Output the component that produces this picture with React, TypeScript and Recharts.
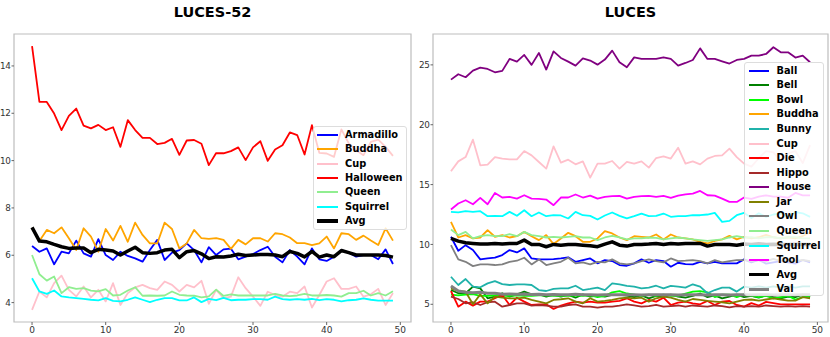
import { LineChart, Line, XAxis, YAxis, ReferenceArea } from "recharts";

const FONT = "'DejaVu Sans', sans-serif";

const steps = Array.from({ length: 50 }, (_, i) => i);
const xTicks = [0, 10, 20, 30, 40, 50];

// LUCES-52
const armadillo = [6.39, 6.15, 6.29, 5.62, 6.15, 6.08, 6.62, 6.08, 5.94, 6.68, 6.01, 5.8, 6.15, 5.97, 5.87, 5.73, 6.22, 6.65, 5.8, 6.11, 6.22, 6.5, 6.22, 5.7, 6.34, 6.01, 6.25, 6.28, 5.83, 5.94, 6.05, 6.22, 6.36, 5.94, 5.7, 6.22, 5.94, 5.62, 6.29, 5.83, 5.76, 5.94, 6.22, 6.11, 5.94, 6.01, 6.01, 5.83, 6.25, 5.63];
const buddha52 = [7.15, 6.6, 7.07, 6.93, 7.18, 6.72, 6.22, 7.14, 6.79, 6.15, 7.11, 6.62, 7.24, 6.57, 7.38, 6.86, 6.5, 6.5, 7.38, 7.11, 6.29, 6.5, 7.07, 6.72, 6.69, 6.72, 6.65, 6.27, 6.65, 6.46, 6.72, 6.72, 6.58, 6.93, 6.89, 6.75, 6.51, 6.51, 6.43, 6.5, 6.79, 6.29, 6.93, 6.89, 6.65, 6.83, 6.62, 6.43, 7.14, 6.62];
const cup52 = [3.69, 4.47, 4.22, 4.82, 5.14, 4.54, 4.26, 4.68, 4.22, 4.54, 4.05, 4.82, 3.9, 4.4, 4.64, 4.75, 4.61, 4.54, 4.89, 4.75, 4.47, 4.75, 4.64, 4.92, 3.95, 4.54, 4.19, 4.25, 5.07, 4.61, 4.25, 3.86, 4.46, 4.32, 4.25, 4.46, 4.4, 4.68, 3.79, 4.32, 4.89, 5.03, 4.58, 4.58, 4.68, 4.25, 4.35, 4.58, 3.9, 4.4];
const halloween = [14.84, 12.48, 12.48, 11.99, 11.29, 11.89, 12.2, 11.48, 11.36, 11.51, 11.29, 11.41, 10.58, 11.71, 11.29, 10.96, 10.96, 10.7, 10.75, 10.92, 10.24, 10.85, 10.87, 10.71, 9.81, 10.32, 10.31, 10.4, 10.56, 10.02, 10.56, 10.82, 9.99, 10.47, 10.65, 11.19, 11.08, 10.26, 11.5, 10.33, 10.3, 10.16, 11.32, 10.73, 10.44, 10.23, 10.79, 10.89, 10.58, 10.2];
const queen52 = [6.01, 5.2, 4.93, 5.1, 4.4, 4.65, 4.58, 4.61, 4.51, 4.47, 4.57, 4.3, 4.33, 4.51, 4.65, 4.29, 4.3, 4.29, 4.3, 4.47, 4.33, 4.3, 4.29, 4.22, 4.26, 4.55, 4.28, 4.35, 4.3, 4.3, 4.3, 4.3, 4.3, 4.37, 4.3, 4.27, 4.3, 4.37, 4.3, 4.3, 4.32, 4.3, 4.25, 4.4, 4.4, 4.5, 4.3, 4.4, 4.3, 4.48];
const squirrel52 = [5.03, 4.47, 4.37, 4.51, 4.26, 4.22, 4.19, 4.16, 4.12, 4.09, 4.19, 4.07, 4.05, 4.12, 4.22, 4.12, 4.02, 4.12, 4.19, 4.19, 4.09, 4.09, 4.22, 4.02, 4.16, 4.1, 4.2, 4.1, 4.12, 4.12, 4.15, 4.15, 4.12, 4.25, 4.15, 4.12, 4.15, 4.12, 4.16, 4.1, 4.15, 4.12, 4.05, 4.1, 4.12, 4.18, 4.12, 4.08, 4.08, 4.08];
const avg52 = [7.18, 6.6, 6.57, 6.46, 6.36, 6.29, 6.31, 6.31, 6.11, 6.25, 6.22, 6.18, 6.01, 6.18, 6.34, 6.11, 6.08, 6.11, 6.22, 6.25, 5.9, 6.15, 6.2, 6.06, 5.86, 5.94, 5.93, 5.97, 6.04, 5.99, 6.01, 6.03, 6.03, 6.01, 5.94, 6.16, 6.08, 5.93, 6.16, 5.92, 6.01, 5.94, 6.2, 6.11, 6.01, 6.01, 6.01, 6.01, 5.99, 5.92];

// LUCES
const ball = [10.64, 9.47, 9.94, 9.53, 8.75, 8.83, 8.89, 9.11, 9.53, 9.33, 9.67, 8.83, 8.75, 8.75, 8.78, 8.83, 8.92, 8.55, 8.69, 8.83, 8.42, 8.69, 8.61, 8.28, 8.22, 8.42, 8.75, 8.47, 8.69, 8.61, 8.14, 8.47, 8.36, 8.33, 8.55, 8.42, 8.55, 8.42, 8.42, 8.42, 8.75, 8.5, 8.7, 8.4, 8.5, 8.6, 8.5, 8.4, 8.7, 8.5];
const bell = [6.19, 5.92, 5.92, 6.47, 6.33, 5.5, 5.64, 5.92, 5.64, 5.83, 6.05, 5.83, 5.83, 5.64, 5.78, 5.64, 5.78, 5.55, 5.83, 5.64, 5.72, 5.64, 5.78, 5.78, 5.72, 5.6, 5.75, 5.5, 5.7, 5.6, 5.8, 5.65, 5.55, 5.7, 5.9, 5.6, 5.75, 5.5, 5.65, 5.8, 5.6, 5.7, 5.55, 5.75, 5.6, 5.5, 5.65, 5.6, 5.8, 5.6];
const bowl = [5.8, 5.75, 5.8, 5.85, 5.7, 5.7, 5.75, 5.7, 5.7, 5.75, 5.7, 5.7, 5.75, 5.75, 5.7, 5.7, 5.7, 5.75, 5.7, 5.75, 5.6, 5.7, 6.0, 6.1, 5.9, 5.8, 5.7, 5.8, 5.7, 5.8, 5.7, 5.7, 5.9, 6.05, 6.1, 6.0, 5.6, 5.8, 5.8, 5.6, 5.8, 5.7, 5.6, 5.7, 5.5, 5.6, 5.7, 5.4, 5.6, 5.7];
const buddha = [11.89, 10.58, 10.78, 10.5, 10.58, 11.19, 10.64, 10.78, 10.58, 10.69, 11.05, 10.69, 10.36, 10.78, 10.03, 10.5, 10.97, 10.69, 10.22, 10.22, 10.5, 11.11, 10.92, 10.58, 10.36, 10.69, 10.64, 10.58, 10.83, 10.42, 10.83, 10.58, 10.5, 10.42, 10.22, 10.08, 10.3, 10.42, 10.72, 10.42, 10.64, 10.5, 10.6, 10.8, 10.6, 10.5, 10.6, 10.5, 10.7, 11.0];
const bunny = [7.3, 6.61, 7.11, 6.47, 6.42, 6.75, 6.94, 6.69, 6.61, 6.67, 6.67, 6.61, 6.19, 6.11, 6.28, 6.33, 6.33, 6.55, 6.19, 6.28, 6.39, 6.19, 6.75, 6.67, 6.53, 6.47, 6.33, 6.39, 6.55, 6.33, 6.53, 6.47, 6.39, 6.67, 6.47, 5.92, 6.19, 6.39, 6.39, 6.06, 6.47, 6.4, 6.5, 6.4, 6.5, 6.4, 6.5, 6.4, 6.5, 6.5];
const cup = [16.11, 16.94, 17.3, 18.75, 16.61, 16.67, 17.3, 17.17, 17.11, 17.11, 17.8, 17.44, 16.89, 16.33, 18.19, 16.83, 17.08, 16.69, 16.94, 15.58, 16.75, 16.75, 16.97, 16.33, 16.89, 16.75, 16.94, 16.42, 17.22, 17.36, 17.17, 18.08, 16.75, 16.94, 16.69, 17.17, 17.39, 17.44, 18.0, 17.3, 16.75, 16.5, 17.2, 17.8, 17.7, 16.9, 17.6, 17.8, 16.8, 18.3];
const die = [6.11, 4.8, 5.22, 4.89, 5.22, 5.22, 5.5, 5.78, 4.94, 5.55, 5.22, 4.94, 5.0, 5.0, 4.61, 4.89, 5.08, 5.22, 5.14, 5.22, 5.14, 5.14, 5.22, 5.28, 5.5, 5.22, 5.08, 5.36, 5.22, 5.55, 4.94, 5.14, 5.22, 5.08, 5.0, 5.28, 4.94, 5.22, 5.28, 4.94, 4.8, 5.1, 4.9, 5.2, 5.1, 5.0, 5.0, 5.0, 5.0, 5.0];
const hippo = [5.64, 5.44, 5.08, 5.17, 4.94, 5.17, 5.22, 4.8, 4.94, 5.08, 5.08, 4.89, 4.94, 4.89, 4.8, 4.8, 4.94, 5.0, 4.8, 4.8, 4.72, 4.8, 4.8, 4.89, 5.0, 4.9, 4.8, 4.85, 4.95, 4.8, 4.85, 4.9, 4.8, 4.9, 4.85, 4.8, 4.9, 4.85, 4.75, 4.85, 4.8, 4.85, 4.8, 4.9, 4.85, 4.8, 4.85, 4.8, 4.85, 4.8];
const house = [23.77, 24.22, 23.97, 24.52, 24.77, 24.66, 24.38, 24.5, 25.5, 25.27, 25.83, 25.0, 26.0, 24.61, 26.13, 25.58, 25.27, 24.94, 25.55, 25.36, 25.02, 25.44, 26.19, 25.22, 24.8, 25.63, 25.5, 25.5, 25.5, 25.63, 25.5, 24.94, 25.16, 25.41, 26.38, 25.5, 25.5, 25.3, 25.11, 25.41, 25.5, 25.77, 25.77, 25.91, 26.47, 26.05, 26.05, 25.61, 25.77, 25.22];
const jar = [6.33, 6.11, 6.05, 5.0, 5.83, 5.08, 5.64, 5.55, 5.5, 5.5, 5.55, 5.36, 5.22, 5.08, 5.36, 5.42, 5.5, 5.22, 5.08, 5.5, 5.22, 5.28, 5.36, 5.5, 5.55, 5.5, 5.55, 5.22, 5.5, 5.64, 5.55, 5.36, 5.22, 5.44, 5.36, 5.28, 5.22, 5.17, 5.08, 5.22, 5.36, 5.4, 5.3, 5.4, 5.5, 5.4, 5.3, 5.3, 5.6, 5.5];
const owl = [9.94, 8.75, 8.55, 8.19, 8.33, 8.33, 8.28, 8.33, 8.55, 8.64, 8.89, 8.33, 8.75, 8.28, 8.42, 8.55, 8.89, 8.42, 8.5, 8.33, 8.55, 8.5, 8.75, 8.42, 8.33, 8.42, 8.61, 8.75, 8.61, 8.5, 8.83, 8.61, 8.64, 8.69, 8.61, 8.42, 8.69, 8.5, 8.61, 8.69, 8.69, 8.6, 8.7, 8.6, 8.8, 8.6, 8.7, 8.6, 8.7, 8.6];
const queen = [11.25, 10.78, 11.05, 10.5, 10.69, 10.78, 10.69, 10.69, 10.86, 10.69, 11.05, 10.78, 10.69, 10.58, 10.64, 10.58, 10.64, 10.69, 10.58, 10.58, 10.36, 10.58, 10.72, 10.58, 10.42, 10.5, 10.5, 10.58, 10.55, 10.42, 10.5, 10.58, 10.5, 10.42, 10.36, 10.3, 10.36, 10.42, 10.58, 10.69, 10.58, 10.6, 10.5, 10.6, 10.6, 10.5, 10.6, 10.6, 10.5, 10.5];
const squirrel = [12.72, 12.67, 12.78, 12.72, 12.78, 12.36, 12.39, 12.36, 12.72, 12.39, 12.86, 12.36, 12.67, 12.36, 12.44, 12.42, 12.17, 12.72, 12.44, 12.39, 12.08, 12.42, 12.67, 12.39, 12.17, 12.36, 12.58, 12.36, 12.39, 12.58, 12.31, 12.36, 12.36, 12.44, 12.44, 12.5, 12.64, 11.89, 11.97, 12.44, 12.64, 12.2, 12.6, 12.3, 12.5, 12.6, 12.3, 12.7, 12.6, 12.3];
const tool = [12.92, 13.42, 13.69, 13.36, 13.89, 13.36, 14.3, 13.92, 13.97, 13.83, 14.11, 13.83, 13.8, 13.75, 13.28, 13.92, 13.92, 14.17, 13.92, 14.08, 13.83, 13.97, 14.03, 14.05, 13.83, 13.97, 14.03, 14.05, 13.97, 14.05, 13.89, 14.08, 14.19, 14.25, 14.47, 14.11, 14.08, 13.83, 13.55, 13.55, 13.92, 13.8, 14.0, 14.1, 14.0, 14.0, 13.9, 14.3, 14.1, 14.1];
const avg = [10.5, 10.28, 10.14, 10.08, 10.03, 10.03, 10.08, 10.03, 10.08, 10.08, 10.36, 10.0, 10.0, 9.81, 10.0, 9.94, 10.0, 10.0, 9.94, 9.89, 9.81, 10.03, 10.22, 9.94, 9.86, 10.0, 10.0, 10.03, 10.08, 10.0, 10.08, 10.03, 10.08, 10.08, 10.08, 9.86, 10.0, 10.0, 10.0, 9.94, 10.03, 10.0, 10.05, 10.0, 10.02, 10.0, 10.0, 10.02, 10.0, 10.0];
const val = [6.53, 6.11, 6.0, 5.97, 6.0, 5.92, 5.92, 5.83, 5.86, 5.83, 5.85, 5.82, 5.83, 5.8, 5.82, 5.8, 5.8, 5.83, 5.8, 5.8, 5.78, 5.8, 5.8, 5.8, 5.8, 5.8, 5.78, 5.8, 5.8, 5.8, 5.8, 5.78, 5.8, 5.8, 5.8, 5.78, 5.8, 5.8, 5.78, 5.8, 5.8, 5.78, 5.8, 5.8, 5.78, 5.8, 5.8, 5.78, 5.8, 5.8];

type S = { name: string; values: number[]; color: string; w: number };

const leftSeries: S[] = [
  { name: "Armadillo", values: armadillo, color: "#0000ff", w: 1.8 },
  { name: "Buddha", values: buddha52, color: "#ffa500", w: 1.8 },
  { name: "Cup", values: cup52, color: "#ffc0cb", w: 1.8 },
  { name: "Halloween", values: halloween, color: "#ff0000", w: 1.8 },
  { name: "Queen", values: queen52, color: "#90ee90", w: 1.8 },
  { name: "Squirrel", values: squirrel52, color: "#00ffff", w: 1.8 },
  { name: "Avg", values: avg52, color: "#000000", w: 3.5 },
];

const rightSeries: S[] = [
  { name: "Ball", values: ball, color: "#0000ff", w: 1.8 },
  { name: "Bell", values: bell, color: "#008000", w: 1.8 },
  { name: "Bowl", values: bowl, color: "#00ff00", w: 1.8 },
  { name: "Buddha", values: buddha, color: "#ffa500", w: 1.8 },
  { name: "Bunny", values: bunny, color: "#20b2aa", w: 1.8 },
  { name: "Cup", values: cup, color: "#ffc0cb", w: 1.8 },
  { name: "Die", values: die, color: "#ff0000", w: 1.8 },
  { name: "Hippo", values: hippo, color: "#a52a2a", w: 1.8 },
  { name: "House", values: house, color: "#800080", w: 1.8 },
  { name: "Jar", values: jar, color: "#808000", w: 1.8 },
  { name: "Owl", values: owl, color: "#808080", w: 1.8 },
  { name: "Queen", values: queen, color: "#90ee90", w: 1.8 },
  { name: "Squirrel", values: squirrel, color: "#00ffff", w: 1.8 },
  { name: "Tool", values: tool, color: "#ff00ff", w: 1.8 },
  { name: "Avg", values: avg, color: "#000000", w: 3.5 },
  { name: "Val", values: val, color: "#808080", w: 3 },
];

const toRows = (series: S[]) =>
  steps.map((i) => {
    const row: Record<string, number> = { i };
    series.forEach((s) => (row[s.name] = s.values[i]));
    return row;
  });

const xTickStyle = { fontSize: 9, fill: "#333", fontFamily: FONT };
const yTickStyle = { fontSize: 8.8, fill: "#333", fontFamily: FONT, letterSpacing: -0.4 };

function Panel({ left, series, yDomain, yTicks, yWidth, mRight, title }: any) {
  const xd = [-2.45, 51.45];
  return (
    <div style={{ position: "absolute", left, top: 0, width: 415, height: 337 }}>
      <div style={{ position: "absolute", left: yWidth, width: 415 - yWidth - mRight, top: 4, textAlign: "center", fontFamily: FONT, fontWeight: "bold", fontSize: 14.5 }}>
        {title}
      </div>
      <LineChart width={415} height={337} data={toRows(series)} margin={{ top: 34, right: mRight, bottom: 0, left: 0 }}>
        <XAxis dataKey="i" type="number" domain={xd} ticks={xTicks} allowDataOverflow height={15} axisLine={false} tickSize={3} tickLine={{ stroke: "#666" }} tick={xTickStyle} interval={0} />
        <YAxis type="number" domain={yDomain} ticks={yTicks} allowDataOverflow width={yWidth} axisLine={false} tickSize={2.5} tickMargin={1} tickLine={{ stroke: "#666" }} tick={yTickStyle} interval={0} />
        <ReferenceArea x1={xd[0]} x2={xd[1]} y1={yDomain[0]} y2={yDomain[1]} fill="none" stroke="#bdbdbd" strokeWidth={1.2} ifOverflow="visible" />
        {series.map((s: S) => (
          <Line key={s.name} dataKey={s.name} stroke={s.color} strokeWidth={s.w} dot={false} activeDot={false} isAnimationActive={false} strokeLinejoin="round" />
        ))}
      </LineChart>
    </div>
  );
}

function LegendBox({ x, y, w, h, step, series }: { x: number; y: number; w: number; h: number; step: number; series: S[] }) {
  return (
    <div style={{ position: "absolute", left: x, top: y, width: w, height: h, background: "rgba(255,255,255,0.8)", border: "1px solid #ddd", borderRadius: 3, boxSizing: "border-box" }}>
      {series.map((s, k) => (
        <div key={s.name} style={{ position: "absolute", left: 0, top: 8.3 + k * step - 7, height: 14, width: w }}>
          <div style={{ position: "absolute", left: 3.5, top: 7 - Math.max(s.w, 2) / 2, width: 20.5, height: Math.max(s.w, 2), background: s.color }} />
          <div style={{ position: "absolute", left: 31.5, top: 0, lineHeight: "14px", fontFamily: FONT, fontWeight: "bold", fontSize: 9.8, color: "#000", whiteSpace: "nowrap" }}>
            {s.name}
          </div>
        </div>
      ))}
    </div>
  );
}

export default function App() {
  return (
    <div style={{ position: "absolute", left: 0, top: 0, width: 830, height: 337, background: "#fff" }}>
      <Panel left={0} series={leftSeries} yDomain={[3.18, 15.35]} yTicks={[4, 6, 8, 10, 12, 14]} yWidth={14} mRight={4} title="LUCES-52" />
      <Panel left={415} series={rightSeries} yDomain={[3.52, 27.58]} yTicks={[5, 10, 15, 20, 25]} yWidth={18} mRight={2} title="LUCES" />
      <LegendBox x={312.5} y={125.5} w={94} h={104} step={14.4} series={leftSeries} />
      <LegendBox x={744} y={61.5} w={80} h={234} step={14.56} series={rightSeries} />
    </div>
  );
}
